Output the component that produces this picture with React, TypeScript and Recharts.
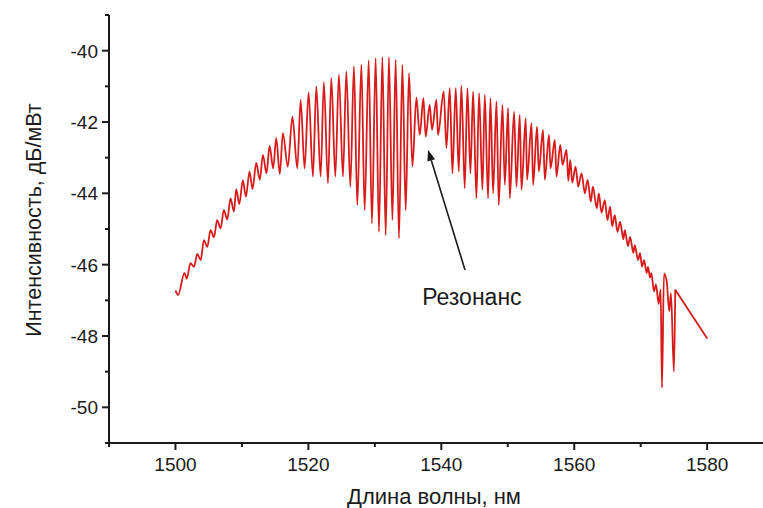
import { LineChart, Line, XAxis, YAxis, ReferenceLine, ReferenceDot, Label } from "recharts";

// spectrum: alternating fringe peaks and dips
const wavelength = [
  1500.0, 1500.4, 1501.36, 1501.7, 1502.26, 1502.8, 1503.27, 1503.8, 1504.27, 1504.8,
  1505.27, 1505.8, 1506.27, 1506.8, 1507.27, 1507.8, 1508.28, 1508.8, 1509.14, 1509.6,
  1510.14, 1510.6, 1511.14, 1511.6, 1512.15, 1512.7, 1513.15, 1513.7, 1514.16, 1514.7,
  1515.16, 1515.7, 1516.16, 1516.9, 1517.6, 1518.33, 1518.83, 1519.43, 1520.03, 1520.68,
  1521.19, 1521.84, 1522.33, 1522.94, 1523.45, 1524.05, 1524.59, 1525.2, 1525.71, 1526.31,
  1526.85, 1527.36, 1527.97, 1528.46, 1529.07, 1529.56, 1530.12, 1530.62, 1531.13, 1531.63,
  1532.12, 1532.64, 1533.13, 1533.63, 1534.14, 1534.64, 1535.14, 1535.65, 1536.25, 1536.75,
  1537.3, 1537.65, 1538.25, 1538.6, 1539.26, 1539.5, 1540.36, 1540.77, 1541.27, 1541.67,
  1542.17, 1542.62, 1543.02, 1543.52, 1543.93, 1544.38, 1544.78, 1545.28, 1545.68, 1546.19,
  1546.54, 1547.03, 1547.39, 1547.79, 1548.3, 1548.64, 1549.2, 1549.55, 1550.05, 1550.3,
  1550.95, 1551.31, 1551.8, 1552.06, 1552.7, 1552.9, 1553.57, 1553.81, 1554.4, 1554.67,
  1555.3, 1555.57, 1556.2, 1556.43, 1557.08, 1557.33, 1557.9, 1558.24, 1558.84, 1559.1,
  1559.4, 1559.7, 1560.2, 1560.6, 1561.1, 1561.6, 1562.0, 1562.5, 1562.8, 1563.4,
  1563.7, 1564.1, 1564.6, 1565.0, 1565.4, 1565.7, 1566.1, 1566.5, 1566.9, 1567.4,
  1567.6, 1568.1, 1568.4, 1568.9, 1569.1, 1569.6, 1569.9, 1570.2, 1570.5, 1570.9,
  1571.1, 1571.4, 1571.6, 1572.0, 1572.3, 1572.7, 1573.0, 1573.2, 1573.5, 1573.9,
  1574.3, 1574.55, 1575.0, 1575.2, 1580.0,
];

const intensity = [
  -46.72, -46.85, -46.23, -46.39, -45.96, -46.06, -45.7, -45.87, -45.31, -45.5,
  -45.03, -45.23, -44.75, -44.98, -44.47, -44.73, -44.14, -44.51, -43.88, -44.3,
  -43.64, -44.09, -43.39, -43.88, -43.15, -43.62, -42.92, -43.44, -42.67, -43.3,
  -42.45, -43.46, -42.31, -43.25, -41.85, -43.3, -41.38, -43.3, -41.17, -43.53,
  -41.0, -43.53, -40.88, -43.72, -40.77, -43.53, -40.67, -43.53, -40.58, -43.81,
  -40.44, -44.33, -40.39, -44.47, -40.27, -44.84, -40.21, -45.08, -40.18, -45.17,
  -40.18, -44.75, -40.25, -45.26, -40.39, -44.47, -40.63, -43.25, -41.32, -42.36,
  -41.33, -42.41, -41.52, -42.22, -41.38, -42.36, -41.14, -42.73, -41.05, -43.44,
  -41.05, -43.39, -40.98, -43.86, -41.05, -43.44, -41.14, -44.14, -41.19, -43.9,
  -41.24, -44.14, -41.33, -44.0, -41.42, -44.33, -41.52, -43.76, -41.61, -44.14,
  -41.71, -43.81, -41.8, -43.9, -41.89, -43.62, -42.03, -43.76, -42.13, -43.39,
  -42.22, -43.62, -42.36, -43.3, -42.5, -43.53, -42.64, -43.2, -42.78, -43.65,
  -43.06, -43.7, -43.25, -43.81, -43.44, -44.0, -43.62, -44.23, -43.81, -44.42,
  -44.0, -44.54, -44.19, -44.75, -44.37, -44.92, -44.61, -45.08, -44.8, -45.29,
  -45.03, -45.48, -45.22, -45.67, -45.45, -45.87, -45.68, -46.06, -45.87, -46.23,
  -46.06, -46.36, -46.24, -46.75, -46.55, -47.1, -46.7, -49.45, -46.25, -46.45,
  -47.3, -46.8, -49.0, -46.7, -48.07,
];

// the last stretch (from 1575.2 nm on) is a plain straight segment
const tailFrom = 1575.2;

const xTicks = [1490, 1500, 1510, 1520, 1530, 1540, 1550, 1560, 1570, 1580];
const xLabelled = [1500, 1520, 1540, 1560, 1580];
const yTicks = [-51, -50, -49, -48, -47, -46, -45, -44, -43, -42, -41, -40, -39];
const yLabelled = [-50, -48, -46, -44, -42, -40];

const FONT = "'Liberation Sans', Arial, sans-serif";
const INK = "#1a1a1a";
const RED = "#d81a1a";

const data = wavelength.map((w, i) => ({
  w,
  v: w <= tailFrom ? intensity[i] : null,
  tail: w >= tailFrom ? intensity[i] : null,
}));

function XTick({ x, y, payload }: any) {
  const major = xLabelled.includes(payload.value);
  return (
    <g>
      <line x1={x} x2={x} y1={y} y2={y + (major ? 7 : 4)} stroke={INK} strokeWidth={2} />
      {major && (
        <text x={x} y={y + 28} textAnchor="middle" fontSize={19} fill={INK} fontFamily={FONT}>
          {payload.value}
        </text>
      )}
    </g>
  );
}

function YTick({ x, y, payload }: any) {
  const major = yLabelled.includes(payload.value);
  return (
    <g>
      <line x1={x} x2={x - (major ? 7 : 4)} y1={y} y2={y} stroke={INK} strokeWidth={2} />
      {major && (
        <text x={x - 11} y={y + 7} textAnchor="end" fontSize={19} fill={INK} fontFamily={FONT}>
          {payload.value}
        </text>
      )}
    </g>
  );
}

function Arrow(p: any) {
  const { x1, y1, x2, y2 } = p;
  const ang = Math.atan2(y2 - y1, x2 - x1);
  const len = 11;
  const half = 4;
  const bx = x2 - len * Math.cos(ang);
  const by = y2 - len * Math.sin(ang);
  const px = -Math.sin(ang) * half;
  const py = Math.cos(ang) * half;
  return (
    <g>
      <line x1={x1} y1={y1} x2={bx} y2={by} stroke={INK} strokeWidth={1.6} />
      <polygon points={`${x2},${y2} ${bx + px},${by + py} ${bx - px},${by - py}`} fill={INK} />
    </g>
  );
}

export default function App() {
  return (
    <div style={{ position: "absolute", left: 0, top: 0, background: "#fff" }}>
      <LineChart width={763} height={508} data={data} margin={{ top: 15, right: 0, bottom: 0, left: 0 }}>
        <XAxis
          dataKey="w"
          type="number"
          domain={[1490, 1588.4]}
          ticks={xTicks}
          tick={<XTick />}
          tickLine={false}
          tickSize={0}
          tickMargin={0}
          axisLine={{ stroke: INK, strokeWidth: 2 }}
          height={65}
          allowDataOverflow
        >
          <Label
            content={() => (
              <text x={434} y={504} textAnchor="middle" fontSize={22} fill={INK} fontFamily={FONT}>
                Длина волны, нм
              </text>
            )}
          />
        </XAxis>
        <YAxis
          type="number"
          domain={[-51, -39]}
          ticks={yTicks}
          tick={<YTick />}
          tickLine={false}
          tickSize={0}
          tickMargin={0}
          axisLine={{ stroke: INK, strokeWidth: 2 }}
          width={109}
          allowDataOverflow
        >
          <Label
            content={() => (
              <text
                x={34}
                y={220}
                transform="rotate(-90 34 220)"
                textAnchor="middle"
                dominantBaseline="central"
                fontSize={21.5}
                fill={INK}
                fontFamily={FONT}
              >
                Интенсивность, дБ/мВт
              </text>
            )}
          />
        </YAxis>
        <Line
          dataKey="v"
          type="monotone"
          stroke={RED}
          strokeWidth={1.8}
          dot={false}
          isAnimationActive={false}
        />
        <Line
          dataKey="tail"
          type="linear"
          stroke={RED}
          strokeWidth={1.8}
          dot={false}
          isAnimationActive={false}
        />
        <ReferenceLine
          segment={[
            { x: 1543.57, y: -46.15 },
            { x: 1538.0, y: -42.78 },
          ]}
          shape={<Arrow />}
        />
        <ReferenceDot
          x={1544.6}
          y={-47.13}
          r={0}
          shape={(p: any) => (
            <text x={p.cx} y={p.cy} textAnchor="middle" fontSize={23} fill={INK} fontFamily={FONT}>
              Резонанс
            </text>
          )}
        />
      </LineChart>
    </div>
  );
}
